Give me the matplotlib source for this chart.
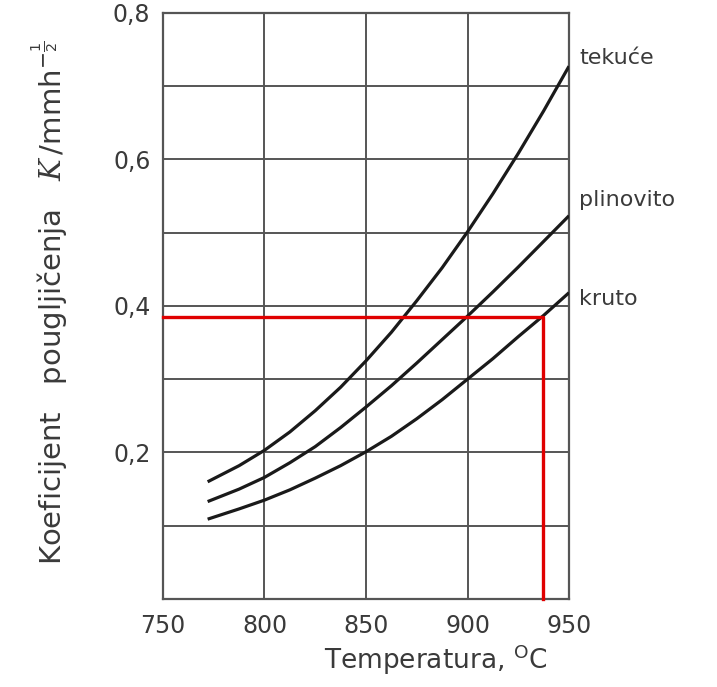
import matplotlib
matplotlib.use("Agg")
import matplotlib.pyplot as plt
from matplotlib.ticker import MultipleLocator, FuncFormatter

# temperature points (deg C)
temps = [772, 787.5, 800, 812.5, 825, 837.5, 850, 862.5, 875, 887.5, 900, 912.5, 925, 937.5, 950]
# carburizing coefficient K for each medium
tekuce = [0.160, 0.182, 0.203, 0.228, 0.257, 0.289, 0.325, 0.364, 0.407, 0.452, 0.501, 0.553, 0.608, 0.666, 0.727]
plinovito = [0.133, 0.150, 0.166, 0.186, 0.208, 0.234, 0.262, 0.291, 0.322, 0.354, 0.386, 0.419, 0.453, 0.488, 0.523]
kruto = [0.109, 0.123, 0.135, 0.149, 0.165, 0.182, 0.201, 0.222, 0.246, 0.272, 0.300, 0.328, 0.358, 0.387, 0.418]
labels = ["tekuće", "plinovito", "kruto"]
label_y = [0.738, 0.544, 0.41]

# red reading line
read_t = 937
read_k = 0.385

plt.rcParams['font.family'] = ['DejaVu Sans']
plt.rcParams['mathtext.fontset'] = 'custom'
plt.rcParams['mathtext.rm'] = 'DejaVu Sans'
plt.rcParams['mathtext.it'] = 'DejaVu Serif:italic'

txt = '#3a3a3a'
fig = plt.figure(figsize=(7.17, 6.87), dpi=100)
ax = fig.add_axes([0.2273, 0.128, 0.5663, 0.8535])

ax.set_xlim(750, 950)
ax.set_ylim(0, 0.8)
ax.xaxis.set_major_locator(MultipleLocator(50))
ax.yaxis.set_major_locator(MultipleLocator(0.2))
ax.yaxis.set_minor_locator(MultipleLocator(0.1))
ax.yaxis.set_major_formatter(FuncFormatter(lambda v, p: '' if v == 0 else f'{v:.1f}'.replace('.', ',')))
ax.grid(True, which='both', color='#555555', linewidth=1.4)
ax.set_axisbelow(True)
ax.tick_params(which='both', length=0, labelsize=17, labelcolor=txt)
ax.tick_params(axis='x', pad=11)
ax.tick_params(axis='y', pad=9)
for s in ax.spines.values():
    s.set_color('#555555')
    s.set_linewidth(1.6)

for vals in (tekuce, plinovito, kruto):
    ax.plot(temps, vals, color='#1a1a1a', linewidth=2.3, solid_capstyle='butt', zorder=3)

ax.plot([750, read_t, read_t], [read_k, read_k, 0], color='#e00000', linewidth=2.4, zorder=4, clip_on=False)

for lab, yy in zip(labels, label_y):
    ax.text(955, yy, lab, fontsize=16, color=txt, ha='left', va='center', clip_on=False)

ax.set_xlabel('Temperatura, $^{\\mathrm{O}}$C', fontsize=19, color=txt)
ax.xaxis.set_label_coords(0.672, -0.075)
ax.set_ylabel('Koeficijent   pougljičenja   $K\\,/\\mathrm{mmh}^{-\\frac{1}{2}}$',
              fontsize=21, color=txt)
ax.yaxis.set_label_coords(-0.228, 0.505)

fig.savefig('out.png', dpi=100)
